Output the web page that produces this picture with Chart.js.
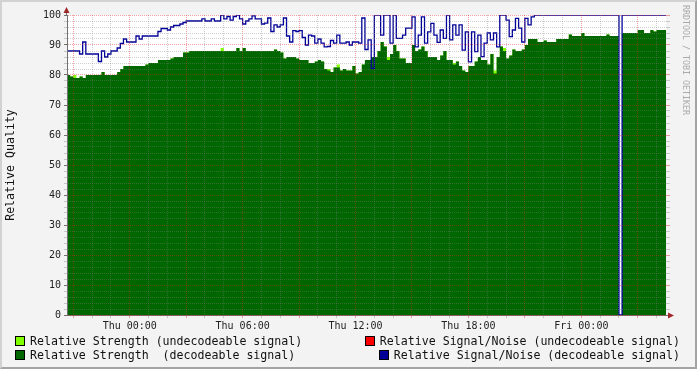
<!DOCTYPE html>
<html>
<head>
<meta charset="utf-8">
<script src="https://cdn.jsdelivr.net/npm/chart.js@4/dist/chart.umd.min.js"></script>
<style>
  html, body { margin: 0; padding: 0; background: #f3f3f3; }
  #wrap { position: relative; width: 697px; height: 369px; overflow: hidden; font-family: 'DejaVu Sans Mono', monospace; }
  #wrap canvas { position: absolute; left: 0; top: 0; }
  #frame { position: absolute; left: 0; top: 0; width: 697px; height: 369px; box-sizing: border-box;
           border: 2px solid; border-color: #d2d2d2 #a4a4a4 #a4a4a4 #d2d2d2; pointer-events: none; }
  .lg { position: absolute; font-size: 11.6px; line-height: 14px; color: #111; white-space: pre; }
  .sw { display: inline-block; width: 8px; height: 8px; border: 1px solid #000; margin-right: 5px; vertical-align: -1px; }
  #credit { position: absolute; left: 681px; top: 5px; font-size: 8.3px; line-height: 10px; color: #aaa;
            writing-mode: vertical-rl; white-space: pre; }
</style>
</head>
<body>
<div id="wrap">
  <canvas id="rrd" width="697" height="369"></canvas>
  <div id="credit">RRDTOOL / TOBI OETIKER</div>
  <div class="lg" style="left:15px;top:334px"><span class="sw" style="background:#80ff00"></span>Relative Strength (undecodeable signal)</div>
  <div class="lg" style="left:15px;top:348px"><span class="sw" style="background:#006600"></span>Relative Strength  (decodeable signal)</div>
  <div class="lg" style="right:17px;top:334px"><span class="sw" style="background:#ff0000"></span>Relative Signal/Noise (undecodeable signal)</div>
  <div class="lg" style="right:17px;top:348px"><span class="sw" style="background:#000099"></span>Relative Signal/Noise (decodeable signal)</div>
  <div id="frame"></div>
</div>
<script>
// time axis in hours from Thu 00:00, one sample every 10 minutes
const START_HOUR = -10 / 3;
const STEP_HOUR = 1 / 6;
const X_MAX = 28.5;

const TICK_HOURS  = [0, 6, 12, 18, 24];
const TICK_LABELS = ['Thu 00:00', 'Thu 06:00', 'Thu 12:00', 'Thu 18:00', 'Fri 00:00'];

// relative strength, decodeable signal (0 = no data)
const strength = [
  80, 80, 79.5, 79, 79, 79.5, 79, 80, 80, 80,
  80, 80, 81, 80, 80, 80, 80, 81, 82, 83,
  83, 83, 83, 83, 83, 83, 83.5, 84, 84, 84,
  85, 85, 85, 85, 85.5, 86, 86, 86, 87.5, 87.5,
  88, 88, 88, 88, 88, 88, 88, 88, 88, 88,
  88, 88, 88, 88, 88, 89, 88, 89, 88, 88,
  88, 88, 88, 88, 88, 88, 88, 88.5, 88, 87.5,
  85.5, 86, 86, 86, 85.5, 85, 85, 85, 84, 84,
  84.5, 85, 84.5, 82, 81.5, 81, 82.5, 82.5, 81.5, 82,
  81.5, 81.5, 83, 80.5, 81, 83.5, 85, 85, 86, 86,
  88, 91, 89.5, 85, 87, 90, 88, 85.5, 85.5, 84,
  84, 90, 88, 88.5, 89.5, 88, 86, 86, 86, 85,
  86.5, 88, 85, 85, 83.5, 84.5, 83, 81.5, 81, 83,
  83, 84.5, 86, 85, 85, 83.5, 87, 80.5, 86, 89.5,
  88, 85.5, 86.5, 88.5, 88, 88, 88.5, 90, 92, 92,
  92, 91, 91, 91.5, 91, 91, 91, 92, 92, 92,
  92, 93.5, 93, 93, 93, 94, 93, 93, 93, 93,
  93, 93, 93, 93.5, 93, 93, 93, 0, 94, 94,
  94, 94, 94, 95, 95, 94, 94, 95, 94.5, 95,
  95
];

// samples where the undecodeable strength pokes out: [sample, value]
const weakSpikes = [
  [3, 80], [50, 89], [84, 82], [87, 83.5], [103, 86],
  [124, 84], [137, 81.5], [140, 89], [165, 93.5]
];

// relative signal/noise, decodeable signal
const snr = [
  87, 88, 88, 88, 88, 87, 91, 87, 87, 87,
  87, 84.5, 88, 86, 87, 88, 88, 89, 90.5, 92,
  91, 91, 91, 93, 92, 93, 93, 93, 93, 93,
  94.5, 95.5, 95.5, 95, 96, 96.5, 96.5, 97, 97.5, 98,
  98, 98, 98, 98, 98.7, 98, 98, 98.7, 98, 98,
  100, 98.7, 99.5, 98.3, 99.5, 100, 98.7, 97, 98, 98.7,
  99.7, 98.7, 98.7, 97, 97.3, 99, 94.5, 96.7, 96, 96.7,
  99, 93, 91, 94.8, 94.5, 94.8, 92.5, 90, 93.3, 93,
  90.6, 92, 90.6, 89.4, 89.5, 91.5, 90.6, 93.3, 90.6, 90.6,
  91, 90, 91, 91, 90.6, 99, 88.5, 91.7, 82.2, 100,
  100, 93.3, 100, 100, 90.6, 100, 92.2, 92.2, 93.3, 95.6,
  95.6, 99.4, 89.4, 93.3, 99.4, 90.6, 94.4, 97.2, 93.3, 90.9,
  95, 92.2, 100, 91.7, 96.7, 93.3, 96.7, 88.3, 94.4, 84.4,
  94.4, 87.8, 93.3, 86.1, 90.6, 94, 91.7, 94, 89.4, 100,
  100, 98.3, 92.8, 95, 98.9, 95.6, 91, 98.9, 96.7, 99.4,
  100, 100, 100, 100, 100, 100, 100, 100, 100, 100,
  100, 100, 100, 100, 100, 100, 100, 100, 100, 100,
  100, 100, 100, 100, 100, 100, 100, 0, 100, 100,
  100, 100, 100, 100, 100, 100, 100, 100, 100, 100,
  100
];

// points on the hour axis; last value repeated to close the final step
function toPoints(values) {
  const pts = values.map((v, i) => ({ x: START_HOUR + i * STEP_HOUR, y: v }));
  pts.push({ x: X_MAX, y: values[values.length - 1] });
  return pts;
}

const weak = strength.slice();
weakSpikes.forEach(([i, v]) => { weak[i] = Math.max(weak[i], v); });

const MINOR = 'rgba(128,128,128,0.38)';
const MAJOR = 'rgba(225,30,30,0.42)';

// white canvas behind the plot + axis arrows
const rrdFrame = {
  id: 'rrdFrame',
  beforeDraw(chart) {
    const { ctx, chartArea: a } = chart;
    ctx.save();
    ctx.fillStyle = '#ffffff';
    ctx.fillRect(a.left, a.top, a.right - a.left, a.bottom - a.top);
    ctx.restore();
  },
  afterDraw(chart) {
    const { ctx, chartArea: a } = chart;
    ctx.save();
    ctx.strokeStyle = '#707070';
    ctx.lineWidth = 1;
    ctx.beginPath();
    ctx.moveTo(a.left - 0.5, a.top);
    ctx.lineTo(a.left - 0.5, a.top - 5);
    ctx.moveTo(a.right, a.bottom + 0.5);
    ctx.lineTo(a.right + 3, a.bottom + 0.5);
    ctx.stroke();
    ctx.fillStyle = '#a02828';
    ctx.beginPath();
    ctx.moveTo(a.left - 0.5, a.top - 8);
    ctx.lineTo(a.left - 3.5, a.top - 2);
    ctx.lineTo(a.left + 2.5, a.top - 2);
    ctx.closePath();
    ctx.fill();
    ctx.beginPath();
    ctx.moveTo(a.right + 8, a.bottom + 0.5);
    ctx.lineTo(a.right + 2, a.bottom - 2.5);
    ctx.lineTo(a.right + 2, a.bottom + 3.5);
    ctx.closePath();
    ctx.fill();
    ctx.restore();
  }
};

Chart.defaults.font.family = "'DejaVu Sans Mono', monospace";
Chart.defaults.color = '#222';

new Chart(document.getElementById('rrd'), {
  type: 'line',
  data: {
    datasets: [
      {
        label: 'Relative Signal/Noise (decodeable signal)',
        data: toPoints(snr),
        borderColor: '#000099',
        borderWidth: 1.3,
        stepped: 'after',
        fill: false,
        pointRadius: 0,
        order: 0
      },
      {
        label: 'Relative Strength  (decodeable signal)',
        data: toPoints(strength),
        backgroundColor: '#006600',
        borderWidth: 0,
        stepped: 'after',
        fill: 'origin',
        pointRadius: 0,
        order: 1
      },
      {
        label: 'Relative Strength (undecodeable signal)',
        data: toPoints(weak),
        backgroundColor: '#80ff00',
        borderWidth: 0,
        stepped: 'after',
        fill: 'origin',
        pointRadius: 0,
        order: 2
      }
    ]
  },
  options: {
    responsive: false,
    animation: false,
    devicePixelRatio: 1,
    layout: { padding: { top: 15, right: 27, left: 0, bottom: 0 } },
    plugins: { legend: { display: false }, tooltip: { enabled: false } },
    scales: {
      x: {
        type: 'linear',
        min: START_HOUR,
        max: X_MAX,
        afterFit: s => { s.height = 54; },
        grid: {
          z: 1,
          color: c => (c.tick && Math.round(c.tick.value) % 3 === 0 ? MAJOR : MINOR),
          tickColor: c => (c.tick && Math.round(c.tick.value) % 3 === 0 ? MAJOR : MINOR),
          tickLength: 3
        },
        border: { z: 1, color: '#707070', dash: [1, 1] },
        ticks: {
          stepSize: 1,
          includeBounds: false,
          autoSkip: false,
          maxRotation: 0,
          maxTicksLimit: 100,
          padding: 2,
          font: { size: 10 },
          callback: v => {
            const k = TICK_HOURS.indexOf(Math.round(v));
            return k >= 0 && Math.abs(v - TICK_HOURS[k]) < 1e-6 ? TICK_LABELS[k] : '';
          }
        }
      },
      y: {
        min: 0,
        max: 100,
        afterFit: s => { s.width = 67; },
        grid: {
          z: 1,
          color: c => (c.tick && c.tick.value % 10 === 0 ? MAJOR : MINOR),
          tickColor: c => (c.tick && c.tick.value % 10 === 0 ? '#707070' : MINOR),
          tickLength: 3
        },
        border: { z: 1, color: '#707070', dash: [1, 1] },
        ticks: {
          stepSize: 2,
          maxTicksLimit: 100,
          autoSkip: false,
          padding: 3,
          font: { size: 10 },
          callback: v => (v % 10 === 0 ? String(v) : '')
        },
        title: {
          display: true,
          text: 'Relative Quality',
          font: { size: 11.6 },
          color: '#111'
        }
      },
      y2: {
        position: 'right',
        min: 0,
        max: 100,
        afterFit: s => { s.width = 4; },
        grid: {
          drawOnChartArea: false,
          tickColor: c => (c.tick && c.tick.value % 10 === 0 ? MAJOR : MINOR),
          tickLength: 4
        },
        border: { display: false },
        ticks: { display: false, stepSize: 2, maxTicksLimit: 100, autoSkip: false }
      }
    }
  },
  plugins: [rrdFrame]
});
</script>
</body>
</html>
